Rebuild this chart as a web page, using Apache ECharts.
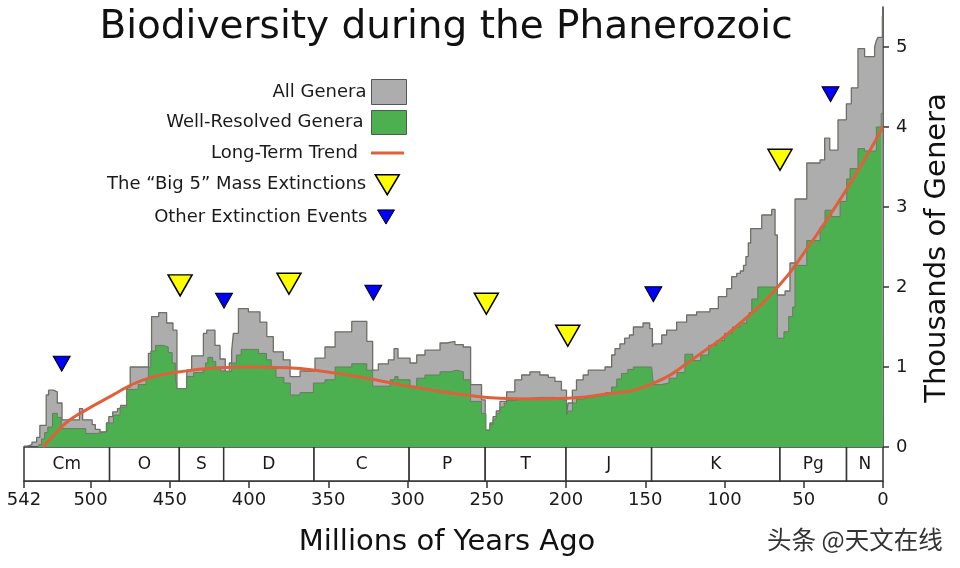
<!DOCTYPE html>
<html>
<head>
<meta charset="utf-8">
<script src="https://cdn.jsdelivr.net/npm/echarts@6/dist/echarts.min.js"></script>
<style>html,body{margin:0;padding:0;background:#fff}#c{width:960px;height:568px}</style>
</head>
<body>
<div id="c"></div>
<script>
// ---- Data (ages in millions of years ago, values in thousands of genera) ----
const allGenera = [
[542,0.01],[540,0.03],[537,0.06],[534,0.12],[532,0.27],[528,0.65],[526.5,0.71],[523.5,0.69],[521,0.55],[518,0.34],[507,0.48],[505,0.34],[499,0.28],[497,0.22],[494,0.19],[490,0.3],[488.5,0.38],[486,0.44],[483,0.48],[481,0.52],[477,0.75],[475,1.0],[463.5,1.17],[461.5,1.63],[457,1.68],[452,1.55],[448,1.46],[445.5,0.73],[439.3,0.96],[436.2,1.14],[428.8,1.42],[426.7,1.46],[421.5,1.27],[418.3,1.1],[415,0.94],[412.5,1.05],[411,1.2],[409.9,1.42],[406.7,1.73],[400.4,1.69],[393.1,1.56],[388.8,1.38],[384.7,1.19],[378.4,1.09],[374.1,0.88],[367.8,0.95],[358.4,1.11],[352.1,1.25],[345.7,1.44],[335.2,1.57],[325.7,1.32],[322,0.96],[318.4,1.04],[312.1,1.09],[308.5,1.23],[306,1.11],[298.4,1.05],[294.2,1.15],[289,1.21],[279.5,1.30],[275.3,1.32],[270.1,1.28],[264.8,1.25],[260.2,0.78],[253.3,0.59],[251,0.21],[248,0.3],[246,0.38],[244,0.45],[241.7,0.57],[237.5,0.69],[232.3,0.84],[228,0.9],[222.8,0.94],[216.5,0.9],[211.2,0.87],[207,0.82],[202.9,0.71],[199.7,0.40],[198.7,0.55],[196,0.71],[193.4,0.84],[189.2,0.9],[186,0.96],[178.5,0.96],[175.4,1.0],[171.2,1.15],[169.1,1.23],[166,1.29],[163,1.36],[160,1.40],[157.5,1.50],[151.4,1.55],[147.2,1.48],[145.5,1.25],[144.5,1.29],[139.6,1.40],[136.5,1.46],[130.2,1.56],[123.9,1.65],[117.6,1.69],[109.2,1.73],[103.9,1.88],[98.6,1.98],[95.5,2.13],[92.3,2.17],[90,2.2],[88,2.27],[86.5,2.38],[85,2.55],[83.5,2.73],[76.5,2.9],[70.2,2.97],[68.1,2.65],[66.7,1.9],[61.8,1.95],[58.7,2.3],[55.5,3.1],[48.1,3.55],[39.7,3.59],[36.8,3.86],[33.6,3.71],[28.4,4.09],[23.1,4.29],[20,4.49],[15.8,4.98],[11.6,4.88],[5.3,5.0],[4.2,5.08],[3.2,5.12],[0.4,5.39],[0,5.39]
];
const wellResolved = [
[533,0.03],[531,0.1],[529,0.18],[527,0.25],[524,0.42],[521,0.37],[518.5,0.23],[503,0.17],[496,0.19],[489.8,0.3],[485.6,0.4],[481.4,0.5],[477.2,0.72],[470,0.78],[465,0.85],[463.5,1.0],[462,1.2],[459,1.27],[454,1.25],[451,1.18],[448.5,1.05],[446.5,0.85],[445.5,0.73],[439.3,0.88],[435,0.93],[429,0.96],[427.5,1.05],[426,1.12],[423,1.07],[421,0.98],[418,0.95],[414,0.94],[411,1.05],[408,1.15],[405,1.22],[399,1.22],[394,1.17],[389,1.09],[386,0.98],[383,0.87],[378,0.8],[374,0.65],[367.8,0.68],[359.4,0.8],[352.1,0.84],[345.7,1.0],[335.2,1.04],[325.7,0.96],[322,0.76],[311,0.84],[308,0.88],[306,0.84],[298.4,0.76],[294.2,0.86],[289,0.9],[279.5,0.94],[273.2,0.96],[269,0.94],[264.8,0.84],[260.2,0.57],[253.3,0.42],[250.5,0.21],[248,0.28],[246,0.35],[244,0.42],[241.7,0.5],[239,0.55],[237.5,0.58],[232,0.6],[228,0.62],[216,0.62],[207,0.6],[203,0.58],[199.7,0.40],[198.7,0.45],[196,0.55],[193.4,0.6],[189,0.62],[185,0.64],[178.5,0.65],[175,0.68],[171.2,0.75],[168,0.85],[165,0.92],[161,0.97],[157.5,1.0],[146,1.0],[144.9,0.78],[140,0.8],[135,0.86],[130,0.93],[125,1.16],[120,1.08],[115,1.15],[110,1.27],[105,1.33],[100,1.42],[95,1.5],[90,1.55],[86,1.62],[84.5,1.68],[82.8,1.85],[79,2.0],[66.7,1.36],[62.5,1.44],[59.5,1.63],[57,1.75],[55.5,2.27],[48.1,2.58],[39.7,2.75],[36.6,2.96],[32.4,2.88],[27.1,3.07],[22.9,3.35],[20.8,3.48],[15.8,3.73],[11.6,3.7],[4.2,4.0],[1.1,4.17],[0,4.17]
];
const longTermTrend = [
[530,0],[524,0.13],[515.6,0.30],[506.6,0.42],[487.7,0.63],[466.7,0.84],[443.5,0.94],[420,0.99],[400,1.0],[376,0.99],[355,0.95],[326,0.86],[305,0.78],[284,0.71],[263,0.65],[242,0.61],[221,0.6],[200,0.61],[179,0.65],[147,0.78],[115,1.17],[90,1.55],[65,2.03],[48,2.48],[35.5,2.84],[18,3.38],[0,4.0]
];
const big5 = [[443.5,2.02],[374.8,2.04],[250.3,1.79],[198.9,1.39],[65.0,3.59]];
const otherEvents = [[518.2,1.04],[415.8,1.83],[321.6,1.93],[144.9,1.91],[33.1,4.41]];
const periodNames = ['Cm','O','S','D','C','P','T','J','K','Pg','N'];
const periodStart = [542,488,444,416,359,299,251,200,146,65,23];
const periodEnd   = [488,444,416,359,299,251,200,146,65,23,0];
const xTicks = [542,500,450,400,350,300,250,200,150,100,50,0];
const yTicks = [0,1,2,3,4,5];

const FONT = '"DejaVu Sans", "Liberation Sans", sans-serif';
const TRI = 'path://M0,0 L24,0 L12,20 Z';
const chart = echarts.init(document.getElementById('c'), null, {renderer:'canvas'});

function lg(name, o, padRight){
  return Object.assign({
    orient:'vertical', align:'right', padding:0, selectedMode:false,
    textStyle:{fontSize:18, color:'#1a1a1a', fontFamily:FONT, padding:[0, padRight, 0, 0]}
  }, o, {data:[Object.assign({name:name}, o.item)]});
}

const option = {
  animation:false,
  backgroundColor:'#fff',
  grid:[
    {left:24, right:77, top:7, bottom:121},
    {left:24, right:77, top:447, height:34}
  ],
  xAxis:[
    {gridIndex:0, type:'value', inverse:true, min:0, max:542, show:false},
    {gridIndex:1, type:'value', inverse:true, min:0, max:542, position:'bottom',
     axisLine:{show:true, lineStyle:{color:'#333', width:1.5}},
     axisTick:{show:true, length:7, customValues:xTicks, lineStyle:{color:'#333', width:1.5}},
     axisLabel:{customValues:xTicks, fontSize:18, color:'#1a1a1a', fontFamily:FONT, margin:10},
     splitLine:{show:false}}
  ],
  yAxis:[
    {gridIndex:0, type:'value', position:'right', min:0, max:5.5,
     axisLine:{show:true, lineStyle:{color:'#333', width:1.5}},
     axisTick:{show:true, length:6, customValues:yTicks, lineStyle:{color:'#333', width:1.5}},
     axisLabel:{customValues:yTicks, fontSize:18, color:'#1a1a1a', fontFamily:FONT, margin:13},
     splitLine:{show:false}},
    {gridIndex:1, type:'value', min:0, max:1, show:false}
  ],
  legend:[
    lg('All Genera', {right:553, top:79, itemWidth:35, itemHeight:25,
       item:{icon:'rect', itemStyle:{color:'#adadad', borderColor:'#555', borderWidth:1}}}, 0),
    lg('Well-Resolved Genera', {right:553, top:110, itemWidth:35, itemHeight:24,
       item:{icon:'rect', itemStyle:{color:'#4caf50', borderColor:'#555', borderWidth:1}}}, 3),
    lg('Long-Term Trend', {right:556, top:144, itemWidth:33, itemHeight:3,
       item:{icon:'rect', itemStyle:{color:'#e0603c', borderWidth:0}}}, 8),
    lg('The \u201cBig 5\u201d Mass Extinctions', {right:560, top:174, itemWidth:24, itemHeight:21,
       item:{icon:TRI, itemStyle:{color:'#ffff00', borderColor:'#000', borderWidth:1.5}}}, 4),
    lg('Other Extinction Events', {right:565, top:208, itemWidth:17, itemHeight:15,
       item:{icon:TRI, itemStyle:{color:'#0000ff', borderColor:'#000', borderWidth:1}}}, 5)
  ],
  graphic:[
    {type:'text', style:{text:'Biodiversity during the Phanerozoic', x:446, y:28, align:'center', verticalAlign:'middle', font:'39px '+FONT, fill:'#111'}},
    {type:'text', style:{text:'Millions of Years Ago', x:447, y:542, align:'center', verticalAlign:'middle', font:'29px '+FONT, fill:'#111'}},
    {type:'text', rotation:Math.PI/2, x:937, y:248, style:{text:'Thousands of Genera', x:0, y:0, align:'center', verticalAlign:'middle', font:'29px '+FONT, fill:'#111'}},
    {type:'text', style:{text:'头条 @天文在线', x:767, y:540, align:'left', verticalAlign:'middle', font:'24.5px "Noto Sans CJK SC"', fill:'#333', stroke:'#fff', lineWidth:2}}
  ],
  series:[
    {name:'All Genera', type:'line', xAxisIndex:0, yAxisIndex:0, step:'end', data:allGenera, showSymbol:false, symbol:'none', z:2,
     itemStyle:{color:'#adadad'}, lineStyle:{color:'#6e6e66', width:1.3}, areaStyle:{color:'#adadad', opacity:1}},
    {name:'Well-Resolved Genera', type:'line', xAxisIndex:0, yAxisIndex:0, step:'end', data:wellResolved, showSymbol:false, symbol:'none', z:3,
     itemStyle:{color:'#4caf50'}, lineStyle:{color:'#6a7a62', width:1}, areaStyle:{color:'#4caf50', opacity:1}},
    {name:'Long-Term Trend', type:'line', xAxisIndex:0, yAxisIndex:0, smooth:0.5, data:longTermTrend, showSymbol:false, symbol:'none', z:4,
     itemStyle:{color:'#e0603c'}, lineStyle:{color:'#e0603c', width:3}},
    {name:'The \u201cBig 5\u201d Mass Extinctions', type:'scatter', xAxisIndex:0, yAxisIndex:0, data:big5, symbol:TRI, symbolSize:[24,21], z:5,
     itemStyle:{color:'#ffff00', borderColor:'#000', borderWidth:1.5, opacity:1}},
    {name:'Other Extinction Events', type:'scatter', xAxisIndex:0, yAxisIndex:0, data:otherEvents, symbol:TRI, symbolSize:[17,15], z:5,
     itemStyle:{color:'#0000ff', borderColor:'#000', borderWidth:1, opacity:1}},
    {name:'Periods', type:'custom', xAxisIndex:1, yAxisIndex:1, silent:true,
     data:periodStart.map((s,i)=>[s, periodEnd[i]]),
     encode:{x:[0,1]},
     renderItem:function(params, api){
       const p1 = api.coord([api.value(0), 1]);
       const p2 = api.coord([api.value(1), 0]);
       return {type:'group', children:[
         {type:'rect', shape:{x:p1[0], y:p1[1], width:p2[0]-p1[0], height:p2[1]-p1[1]},
          style:{fill:'#fff', stroke:'#333', lineWidth:1.5}},
         {type:'text', style:{text:periodNames[params.dataIndex], x:(p1[0]+p2[0])/2, y:(p1[1]+p2[1])/2+1,
          align:'center', verticalAlign:'middle', font:'17px '+FONT, fill:'#1a1a1a'}}
       ]};
     }}
  ]
};
chart.setOption(option);
</script>
</body>
</html>
